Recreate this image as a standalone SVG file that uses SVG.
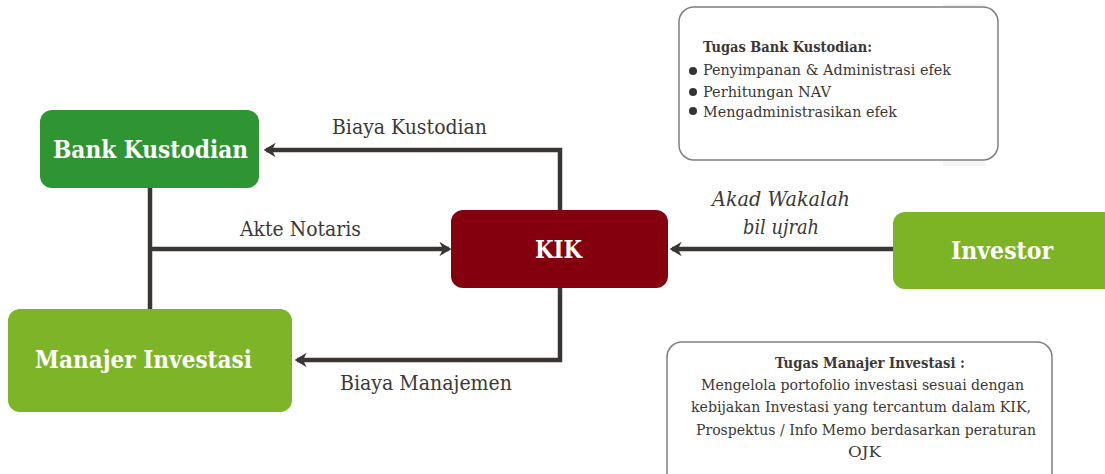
<svg xmlns="http://www.w3.org/2000/svg" width="1105" height="474" viewBox="0 0 1105 474">
  <defs>
    <style>
      .lbl { font-family: "DejaVu Serif", "Liberation Serif", serif; fill: #3b3838; font-size: 19.5px; }
      .node-text { font-family: "DejaVu Serif", "Liberation Serif", serif; font-weight: bold; fill: #ffffff; font-size: 25px; }
      .edge { fill: none; stroke: #3a3634; stroke-width: 4.5; }
      .info { fill: #ffffff; stroke: #7f7f7f; stroke-width: 1.5; }
      .info-text { font-family: "DejaVu Serif", "Liberation Serif", serif; fill: #3b3838; font-size: 15.5px; }
    </style>
    <marker id="chev" viewBox="0 0 12 12" refX="10" refY="6" markerWidth="3.2" markerHeight="3.2" orient="auto" markerUnits="strokeWidth">
      <path d="M2 0 L12 6 L2 12 L5 6 Z" fill="#3a3634"/>
    </marker>
  </defs>

  <rect width="1105" height="474" fill="#ffffff"/>

  <!-- task boxes -->
  <g id="info-bank">
    <rect x="943" y="4" width="42" height="162" fill="#f4f4f4"/>
    <rect class="info" x="679" y="7" width="319" height="153" rx="15"/>
    <g lengthAdjust="spacingAndGlyphs">
      <text class="info-text" x="703" y="52" font-weight="bold" textLength="169" lengthAdjust="spacingAndGlyphs">Tugas Bank Kustodian:</text>
      <text class="info-text" x="703" y="75" textLength="248" lengthAdjust="spacingAndGlyphs">Penyimpanan &amp; Administrasi efek</text>
      <text class="info-text" x="703" y="97" textLength="128" lengthAdjust="spacingAndGlyphs">Perhitungan NAV</text>
      <text class="info-text" x="703" y="117" textLength="194" lengthAdjust="spacingAndGlyphs">Mengadministrasikan efek</text>
    </g>
    <circle cx="693" cy="71" r="4" fill="#333"/>
    <circle cx="693" cy="92" r="4" fill="#333"/>
    <circle cx="693" cy="111" r="4" fill="#333"/>
  </g>

  <g id="info-mi">
    <rect class="info" x="667" y="342" width="385" height="150" rx="15"/>
    <text class="info-text" x="775" y="368" font-weight="bold" textLength="190" lengthAdjust="spacingAndGlyphs">Tugas Manajer Investasi :</text>
    <text class="info-text" x="701" y="390" textLength="323" lengthAdjust="spacingAndGlyphs">Mengelola portofolio investasi sesuai dengan</text>
    <text class="info-text" x="691" y="412" textLength="340" lengthAdjust="spacingAndGlyphs">kebijakan Investasi yang tercantum dalam KIK,</text>
    <text class="info-text" x="696" y="435" textLength="340" lengthAdjust="spacingAndGlyphs">Prospektus / Info Memo berdasarkan  peraturan</text>
    <text class="info-text" x="848" y="457" textLength="33" lengthAdjust="spacingAndGlyphs">OJK</text>
  </g>

  <!-- connectors -->
  <g id="connectors">
    <path class="edge" d="M560 210 V150 H266" marker-end="url(#chev)"/>
    <path class="edge" d="M150 188 V309"/>
    <path class="edge" d="M150 249 H449" marker-end="url(#chev)"/>
    <path class="edge" d="M560 288 V360 H297" marker-end="url(#chev)"/>
    <path class="edge" d="M893 249 H672" marker-end="url(#chev)"/>
    <text class="lbl" x="332" y="134" textLength="155" lengthAdjust="spacingAndGlyphs">Biaya Kustodian</text>
    <text class="lbl" x="240" y="236" textLength="121" lengthAdjust="spacingAndGlyphs">Akte Notaris</text>
    <text class="lbl" x="340" y="390" textLength="172" lengthAdjust="spacingAndGlyphs">Biaya Manajemen</text>
    <text class="lbl" x="712" y="206" font-style="italic" textLength="138" lengthAdjust="spacingAndGlyphs">Akad Wakalah</text>
    <text class="lbl" x="743" y="234" font-style="italic" textLength="76" lengthAdjust="spacingAndGlyphs">bil ujrah</text>
  </g>

  <!-- nodes -->
  <g id="bank-kustodian">
    <rect x="40" y="110" width="219" height="78" rx="12" fill="#2f9533"/>
    <text class="node-text" x="53" y="158" textLength="195" lengthAdjust="spacingAndGlyphs">Bank Kustodian</text>
  </g>
  <g id="kik">
    <rect x="451" y="210" width="217" height="78" rx="12" fill="#85000f"/>
    <text class="node-text" x="535" y="258" textLength="47" lengthAdjust="spacingAndGlyphs">KIK</text>
  </g>
  <g id="investor">
    <rect x="893" y="212" width="230" height="77" rx="12" fill="#7cb426"/>
    <text class="node-text" x="951" y="259" textLength="102" lengthAdjust="spacingAndGlyphs">Investor</text>
  </g>
  <g id="manajer-investasi">
    <rect x="8" y="309" width="284" height="103" rx="12" fill="#7db428"/>
    <text class="node-text" x="35" y="368" font-size="27" textLength="217" lengthAdjust="spacingAndGlyphs">Manajer Investasi</text>
  </g>
</svg>
